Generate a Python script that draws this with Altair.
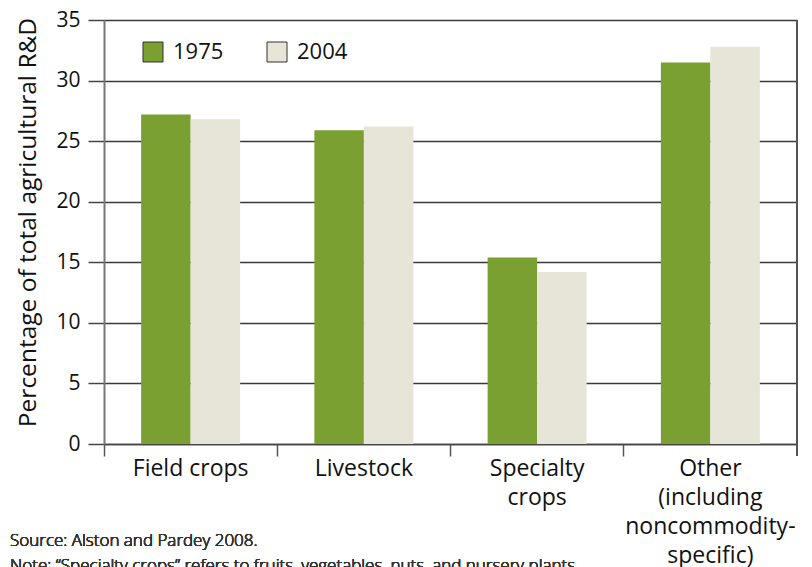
import altair as alt
import pandas as pd

categories = ["Field crops", "Livestock", "Specialty\ncrops", "Other\n(including\nnoncommodity-\nspecific)"]
years = ["1975", "2004"]
values_1975 = [27.2, 25.9, 15.4, 31.5]
values_2004 = [26.8, 26.2, 14.2, 32.8]
y_ticks = [0, 5, 10, 15, 20, 25, 30, 35]
footnotes = ["Source: Alston and Pardey 2008.",
             "Note: \u201cSpecialty crops\u201d refers to fruits, vegetables, nuts, and nursery plants."]
colors = ["#7aa031", "#e6e5d8"]

rows = []
for c, a, b in zip(categories, values_1975, values_2004):
    rows.append({"category": c, "year": "1975", "value": a})
    rows.append({"category": c, "year": "2004", "value": b})
df = pd.DataFrame(rows)

W, H = 693, 424
FONT = "Open Sans"

base = alt.Chart(df)

bars = base.mark_bar().encode(
    x=alt.X("category:N", sort=categories, title=None,
            scale=alt.Scale(paddingInner=0, paddingOuter=0),
            axis=alt.Axis(bandPosition=0, labelAngle=0,
                          labelExpr="split(datum.label, '\\n')",
                          labelFontSize=23, labelFont=FONT, labelColor="#111",
                          labelLineHeight=29, labelPadding=1, labelBound=False,
                          tickSize=12, tickColor="#555", tickWidth=1.5,
                          domainColor="#444", domainWidth=1.5, grid=False)),
    xOffset=alt.XOffset("year:N", scale=alt.Scale(paddingOuter=0.75, paddingInner=0)),
    y=alt.Y("value:Q", title="Percentage of total agricultural R&D",
            scale=alt.Scale(domain=[0, 35], nice=False),
            axis=alt.Axis(values=y_ticks, labelFontSize=21, labelFont=FONT, labelColor="#111",
                          labelPadding=8, tickSize=16, tickColor="#444", tickWidth=1.5,
                          grid=True, gridColor="#3a3a3a", gridWidth=1.5,
                          domainColor="#777", domainWidth=2,
                          titleFontSize=24.5, titleFont=FONT, titleFontWeight="normal",
                          titleColor="#111", titleX=-76, titleY=H / 2 - 10,
                          titleBaseline="middle", titleAngle=-90)),
    color=alt.Color("year:N", scale=alt.Scale(domain=years, range=colors),
                    legend=alt.Legend(title=None, orient="none", legendX=38, legendY=21,
                                      direction="horizontal", symbolType="square",
                                      symbolSize=400, symbolStrokeColor="#333",
                                      symbolStrokeWidth=1, symbolOpacity=1,
                                      labelFontSize=22, labelFont=FONT, labelColor="#111",
                                      labelOffset=9, columnPadding=41)),
)

right_border = base.mark_rule(color="#555", strokeWidth=2).encode(
    x=alt.value(W), y=alt.value(0), y2=alt.value(H + 12)
)

notes = base.mark_text(align="left", baseline="alphabetic", fontSize=17, font=FONT,
                       fontWeight=300, color="#333", lineHeight=25).encode(
    x=alt.value(-94), y=alt.value(H + 102), text=alt.value(footnotes)
)

chart = alt.layer(bars, right_border, notes).properties(
    width=W, height=H,
    autosize=alt.AutoSizeParams(type="none"),
    padding={"left": 96, "top": 12, "right": 7, "bottom": 140},
).configure_view(stroke=None)

chart.save("out.html", embed_options={"renderer": "svg", "actions": False})
